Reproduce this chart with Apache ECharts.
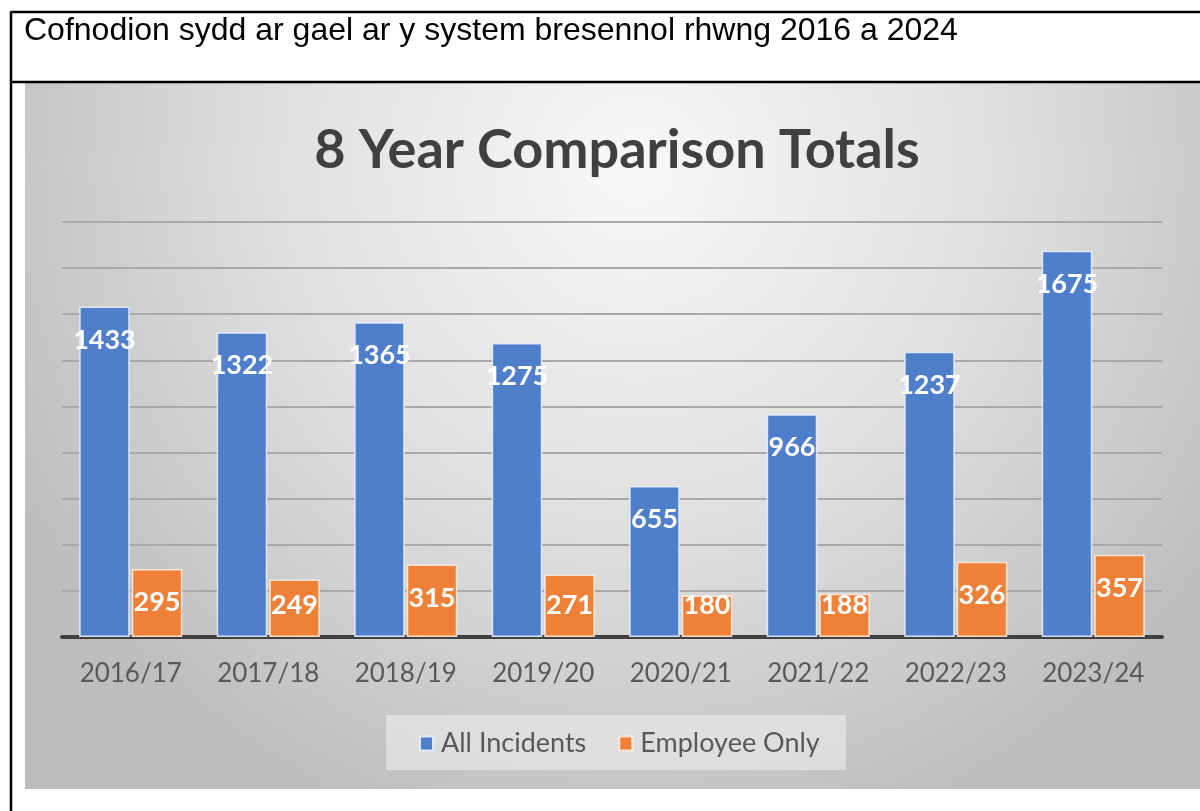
<!DOCTYPE html>
<html>
<head>
<meta charset="utf-8">
<script src="https://cdn.jsdelivr.net/npm/echarts@6/dist/echarts.min.js"></script>
<style>
html,body{margin:0;padding:0;background:#fff;}
#c{width:1200px;height:811px;}
</style>
</head>
<body>
<div id="c"></div>
<script>
const headerText = 'Cofnodion sydd ar gael ar y system bresennol rhwng 2016 a 2024';
const chartTitle = '8 Year Comparison Totals';
const categories = ['2016/17','2017/18','2018/19','2019/20','2020/21','2021/22','2022/23','2023/24'];
const allIncidents = [1433,1322,1365,1275,655,966,1237,1675];
const employeeOnly = [295,249,315,271,180,188,326,357];
const seriesNames = ['All Incidents','Employee Only'];

const chart = echarts.init(document.getElementById('c'), null, {renderer:'canvas'});
const font = 'Lato, "Open Sans", sans-serif';
const labelStyle = {
  show:true, position:'insideTop', distance:20,
  color:'#ffffff', fontFamily:font, fontWeight:'bold', fontSize:27
};
function keepInside(p){
  const base = p.rect.y + p.rect.height;
  return {
    x: p.rect.x + p.rect.width / 2,
    y: Math.min(p.labelRect.y, base - 45),
    align:'center', verticalAlign:'top'
  };
}
chart.setOption({
  animation:false,
  graphic:[
    {type:'rect', z:-10, shape:{x:25,y:83,width:1175,height:706},
     style:{fill:{type:'radial',x:0.52,y:0.12,r:1.0,colorStops:[
       {offset:0,color:'#f8f8f8'},{offset:0.5,color:'#e0e0e0'},{offset:1,color:'#bdbdbd'}]}}},
    {type:'rect', z:-5, shape:{x:386,y:715,width:460,height:55}, style:{fill:'rgba(236,236,236,0.6)'}},
    {type:'line', z:10, shape:{x1:11,y1:12,x2:1200,y2:12}, style:{stroke:'#000',lineWidth:2.5}},
    {type:'line', z:10, shape:{x1:11,y1:82,x2:1200,y2:82}, style:{stroke:'#000',lineWidth:2.5}},
    {type:'line', z:10, shape:{x1:11,y1:11,x2:11,y2:811}, style:{stroke:'#000',lineWidth:2.5}},
    {type:'text', z:10, x:24, y:31, style:{text:headerText, fill:'#000', font:'32px "Liberation Sans", Arial, sans-serif', textVerticalAlign:'middle'}}
  ],
  title:{text:chartTitle, left:612, textAlign:'center', top:119,
    textStyle:{fontFamily:font, fontWeight:'bold', fontSize:54, color:'#404040'}},
  legend:{data:seriesNames, top:725, left:414, itemWidth:13, itemHeight:14, itemGap:32,
    icon:'rect',
    textStyle:{fontFamily:font, fontSize:27, color:'#595959', padding:[0,0,0,3]}},
  grid:{left:62, right:38, top:222, bottom:174, containLabel:false},
  xAxis:{type:'category', data:categories,
    axisLine:{lineStyle:{color:'#404040', width:4}},
    axisTick:{show:false},
    axisLabel:{fontFamily:font, fontSize:26, color:'#595959', margin:24}},
  yAxis:{type:'value', min:0, max:1800, interval:200,
    axisLabel:{show:false}, axisLine:{show:false}, axisTick:{show:false},
    splitLine:{lineStyle:{color:'#a9a9a9', width:2}}},
  series:[
    {name:seriesNames[0], type:'bar', data:allIncidents, barCategoryGap:'25%', barGap:'4%',
     itemStyle:{color:'#4f7fcb', borderColor:'rgba(230,238,252,0.9)', borderWidth:1.5},
     label:labelStyle, labelLayout:keepInside},
    {name:seriesNames[1], type:'bar', data:employeeOnly,
     itemStyle:{color:'#ee8038', borderColor:'rgba(255,235,220,0.9)', borderWidth:1.5},
     label:labelStyle, labelLayout:keepInside}
  ]
});
</script>
</body>
</html>
